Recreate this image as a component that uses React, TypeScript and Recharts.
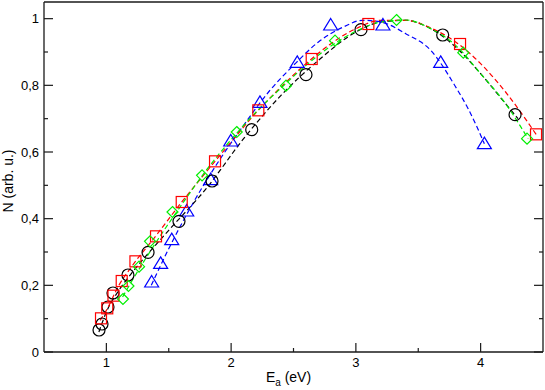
import React from "react";
import { ComposedChart, Line, Scatter, XAxis, YAxis, Label } from "recharts";

const FONT = "'Liberation Sans', Arial, sans-serif";

// tick positions
const xTicks = [1, 1.5, 2, 2.5, 3, 3.5, 4];
const yTicks = [0, 0.1, 0.2, 0.3, 0.4, 0.5, 0.6, 0.7, 0.8, 0.9, 1];

// measured points
const circleE = [0.941, 0.965, 1.013, 1.053, 1.173, 1.334, 1.582, 1.847, 2.165, 2.6, 3.041, 3.696, 4.276];
const circleN = [0.066, 0.084, 0.135, 0.177, 0.231, 0.299, 0.392, 0.513, 0.667, 0.832, 0.967, 0.951, 0.712];

const squareE = [0.957, 1.007, 1.057, 1.123, 1.233, 1.398, 1.604, 1.871, 2.218, 2.646, 3.1, 3.835, 4.444];
const squareN = [0.101, 0.131, 0.169, 0.213, 0.272, 0.347, 0.45, 0.572, 0.725, 0.879, 0.984, 0.924, 0.653];

const diamondE = [1.133, 1.177, 1.262, 1.35, 1.53, 1.767, 2.045, 2.44, 2.833, 3.326, 3.861, 4.372];
const diamondN = [0.159, 0.198, 0.256, 0.332, 0.42, 0.53, 0.66, 0.799, 0.934, 0.996, 0.898, 0.64];

const triangleE = [1.363, 1.435, 1.524, 1.644, 1.836, 1.997, 2.231, 2.53, 2.798, 3.217, 3.68, 4.03];
const triangleN = [0.21, 0.266, 0.337, 0.423, 0.517, 0.633, 0.749, 0.869, 0.981, 0.981, 0.869, 0.625];

// dashed fit curves
const fitBlackE = [0.94, 1.0, 1.1, 1.2, 1.5, 1.8, 2.1, 2.4, 2.7, 3.0, 3.2, 3.4, 3.6, 3.8, 4.0, 4.2, 4.3];
const fitBlackN = [0.06, 0.12, 0.185, 0.235, 0.365, 0.49, 0.64, 0.77, 0.875, 0.96, 0.99, 0.995, 0.97, 0.915, 0.835, 0.745, 0.7];

const fitRedE = [0.95, 1.0, 1.1, 1.2, 1.4, 1.6, 1.8, 2.0, 2.2, 2.4, 2.6, 2.8, 3.0, 3.2, 3.4, 3.6, 3.8, 4.0, 4.2, 4.45];
const fitRedN = [0.095, 0.125, 0.2, 0.255, 0.35, 0.448, 0.54, 0.63, 0.718, 0.795, 0.865, 0.925, 0.97, 0.995, 0.995, 0.972, 0.93, 0.865, 0.78, 0.65];

const fitGreenE = [1.13, 1.2, 1.4, 1.6, 1.8, 2.0, 2.2, 2.4, 2.6, 2.8, 3.0, 3.2, 3.4, 3.6, 3.8, 4.0, 4.2, 4.38];
const fitGreenN = [0.165, 0.21, 0.33, 0.44, 0.545, 0.637, 0.72, 0.792, 0.86, 0.918, 0.962, 0.99, 0.996, 0.97, 0.92, 0.835, 0.745, 0.64];

const fitBlueE = [1.36, 1.5, 1.7, 1.9, 2.1, 2.3, 2.5, 2.7, 2.9, 3.05, 3.2, 3.4, 3.6, 3.8, 3.9, 4.03];
const fitBlueN = [0.2, 0.31, 0.45, 0.572, 0.68, 0.78, 0.86, 0.93, 0.975, 0.995, 0.99, 0.955, 0.905, 0.795, 0.73, 0.625];

const zip = (xs: number[], ys: number[]) => xs.map((x, i) => ({ x, y: ys[i] }));

const AXIS = "#1a1a1a";

const isMajorX = (v: number) => Number.isInteger(v);
const isMajorY = (v: number) => Math.round(v * 10) % 2 === 0;
const fmtY = (v: number) => String(v).replace(".", ",");

const BottomTick = ({ x, y, payload }: any) => {
  const major = isMajorX(payload.value);
  return (
    <g>
      <line x1={x} x2={x} y1={y} y2={y - (major ? 9 : 4)} stroke={AXIS} strokeWidth={1.2} />
      {major && (
        <text x={x} y={y + 15} textAnchor="middle" fontSize={13} fontFamily={FONT} fill="#000">
          {payload.value}
        </text>
      )}
    </g>
  );
};

const TopTick = ({ x, y, payload }: any) => {
  const major = isMajorX(payload.value);
  return <line x1={x} x2={x} y1={y} y2={y + (major ? 9 : 4)} stroke={AXIS} strokeWidth={1.2} />;
};

const LeftTick = ({ x, y, payload }: any) => {
  const major = isMajorY(payload.value);
  return (
    <g>
      <line x1={x} x2={x + (major ? 9 : 4)} y1={y} y2={y} stroke={AXIS} strokeWidth={1.2} />
      {major && (
        <text x={x - 5} y={y + 4.5} textAnchor="end" fontSize={13} fontFamily={FONT} fill="#000">
          {fmtY(payload.value)}
        </text>
      )}
    </g>
  );
};

const RightTick = ({ x, y, payload }: any) => {
  const major = isMajorY(payload.value);
  return <line x1={x} x2={x - (major ? 9 : 4)} y1={y} y2={y} stroke={AXIS} strokeWidth={1.2} />;
};

const Circle = ({ cx, cy }: any) => <circle cx={cx} cy={cy} r={6} fill="none" stroke="#000" strokeWidth={1.2} />;
const Square = ({ cx, cy }: any) => (
  <rect x={cx - 5.5} y={cy - 5.5} width={11} height={11} fill="none" stroke="#ff0000" strokeWidth={1.2} />
);
const Diamond = ({ cx, cy }: any) => (
  <polygon
    points={`${cx},${cy - 5.5} ${cx + 5.5},${cy} ${cx},${cy + 5.5} ${cx - 5.5},${cy}`}
    fill="none"
    stroke="#00ee00"
    strokeWidth={1.2}
  />
);
const Triangle = ({ cx, cy }: any) => (
  <polygon
    points={`${cx},${cy - 6.5} ${cx + 7},${cy + 5} ${cx - 7},${cy + 5}`}
    fill="none"
    stroke="#0000ff"
    strokeWidth={1.2}
  />
);

const XTitle = ({ viewBox }: any) => (
  <text x={viewBox.x + viewBox.width / 2 - 5} y={382} textAnchor="middle" fontSize={14} fontFamily={FONT} fill="#000">
    E
    <tspan dy={4} fontSize={10}>a</tspan>
    <tspan dy={-4}> (eV)</tspan>
  </text>
);

const YTitle = ({ viewBox }: any) => {
  const x = 13;
  const y = 181;
  return (
    <text x={x} y={y} transform={`rotate(-90, ${x}, ${y})`} textAnchor="middle" fontSize={14} fontFamily={FONT} fill="#000">
      N (arb. u.)
    </text>
  );
};

const dash = "5 3";

export default function App() {
  return (
    <div style={{ position: "absolute", left: 0, top: 0, background: "#fff" }}>
      <ComposedChart width={545} height={390} margin={{ top: 0, right: 0, bottom: 0, left: 0 }}>
        <XAxis
          xAxisId="b"
          dataKey="x"
          type="number"
          domain={[0.5, 4.5]}
          ticks={xTicks}
          interval={0}
          height={38}
          tickLine={false}
          tickSize={0}
          tickMargin={0}
          tick={<BottomTick />}
          axisLine={{ stroke: AXIS, strokeWidth: 1.3 }}
          allowDataOverflow
        >
          <Label content={<XTitle />} />
        </XAxis>
        <XAxis
          xAxisId="t"
          orientation="top"
          type="number"
          domain={[0.5, 4.5]}
          ticks={xTicks}
          interval={0}
          height={2}
          tickLine={false}
          tickSize={0}
          tickMargin={0}
          tick={<TopTick />}
          axisLine={{ stroke: AXIS, strokeWidth: 1.3 }}
          allowDataOverflow
        />
        <YAxis
          yAxisId="l"
          dataKey="y"
          type="number"
          domain={[0, 1.05]}
          ticks={yTicks}
          interval={0}
          width={44}
          tickLine={false}
          tickSize={0}
          tickMargin={0}
          tick={<LeftTick />}
          axisLine={{ stroke: AXIS, strokeWidth: 1.3 }}
          allowDataOverflow
        >
          <Label content={<YTitle />} />
        </YAxis>
        <YAxis
          yAxisId="r"
          orientation="right"
          type="number"
          domain={[0, 1.05]}
          ticks={yTicks}
          interval={0}
          width={2}
          tickLine={false}
          tickSize={0}
          tickMargin={0}
          tick={<RightTick />}
          axisLine={{ stroke: AXIS, strokeWidth: 1.3 }}
          allowDataOverflow
        />

        <Line xAxisId="b" yAxisId="l" data={zip(fitBlueE, fitBlueN)} dataKey="y" type="monotone" stroke="#0000ff" strokeWidth={1.2} strokeDasharray={dash} dot={false} isAnimationActive={false} />
        <Line xAxisId="b" yAxisId="l" data={zip(fitBlackE, fitBlackN)} dataKey="y" type="monotone" stroke="#000" strokeWidth={1.2} strokeDasharray={dash} dot={false} isAnimationActive={false} />
        <Line xAxisId="b" yAxisId="l" data={zip(fitRedE, fitRedN)} dataKey="y" type="monotone" stroke="#ff0000" strokeWidth={1.2} strokeDasharray={dash} dot={false} isAnimationActive={false} />
        <Line xAxisId="b" yAxisId="l" data={zip(fitGreenE, fitGreenN)} dataKey="y" type="monotone" stroke="#00ee00" strokeWidth={1.2} strokeDasharray={dash} dot={false} isAnimationActive={false} />

        <Scatter xAxisId="b" yAxisId="l" data={zip(triangleE, triangleN)} shape={<Triangle />} isAnimationActive={false} />
        <Scatter xAxisId="b" yAxisId="l" data={zip(circleE, circleN)} shape={<Circle />} isAnimationActive={false} />
        <Scatter xAxisId="b" yAxisId="l" data={zip(squareE, squareN)} shape={<Square />} isAnimationActive={false} />
        <Scatter xAxisId="b" yAxisId="l" data={zip(diamondE, diamondN)} shape={<Diamond />} isAnimationActive={false} />
      </ComposedChart>
    </div>
  );
}
